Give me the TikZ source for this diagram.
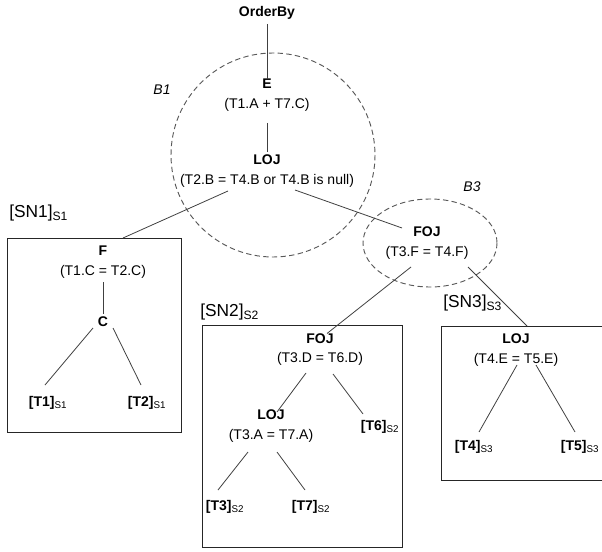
\documentclass[tikz,border=0pt]{standalone}
\usepackage{fontspec}
\setmainfont{Liberation Sans}
\usetikzlibrary{calc}

\newcommand{\leaf}[2]{\textbf{[#1]}\textsubscript{#2}}

\begin{document}
\begin{tikzpicture}[x=0.75pt,y=-0.75pt,
                    font=\fontsize{10.5}{14.5}\selectfont,
                    op/.style={align=center,inner sep=1pt},
                    part/.style={anchor=west,inner sep=0pt,font=\fontsize{13}{15}\selectfont},
                    blk/.style={inner sep=0pt,font=\fontsize{10.5}{12}\selectfont\itshape},
                    wire/.style={draw=black!75,line width=0.6pt},
                    ring/.style={draw=black!65,line width=0.7pt,dash pattern=on 4pt off 2.5pt},
                    sbox/.style={draw=black!85,line width=0.7pt}]
                    \clip (0,0) rectangle (602,552);
                    \draw[ring] (273,155) circle [radius=102];
                    \draw[ring] (430,243) ellipse [x radius=67,y radius=44];
                    \draw[sbox] (7,238) rectangle (181,432);
                    \draw[sbox] (202,325) rectangle (402,547);
                    \draw[sbox] (441,326) rectangle (612,480);
                    \coordinate (sn1top) at (123,238);
                    \coordinate (sn3top) at (527,326);
                    \node[blk] (b1) at (162,90) {B1};
                    \node[blk] (b3) at (472,187) {B3};
                    \node[part] (sn1) at (9,213) {[SN1]\textsubscript{S1}};
                    \node[part] (sn2) at (200,312) {[SN2]\textsubscript{S2}};
                    \node[part] (sn3) at (443,303) {[SN3]\textsubscript{S3}};
                    \node[op] (orderby) at (267,13) {\textbf{OrderBy}};
                    \node[op] (e) at (267,95) {\textbf{E}\\(T1.A + T7.C)};
                    \node[op] (lojB1) at (267,171) {\textbf{LOJ}\\(T2.B = T4.B or T4.B is null)};
                    \node[op] (fojB3) at (427,243) {\textbf{FOJ}\\(T3.F = T4.F)};
                    \node[op] (f1) at (103,262) {\textbf{F}\\(T1.C = T2.C)};
                    \node[op] (c1) at (103,322) {\textbf{C}};
                    \node[op] (t1) at (48,403) {\leaf{T1}{S1}};
                    \node[op] (t2) at (147,403) {\leaf{T2}{S1}};
                    \node[op] (foj2) at (320,349.5) {\textbf{FOJ}\\(T3.D = T6.D)};
                    \node[op] (loj2) at (271,426) {\textbf{LOJ}\\(T3.A = T7.A)};
                    \node[op] (t6) at (380,427) {\leaf{T6}{S2}};
                    \node[op] (t3) at (225,507) {\leaf{T3}{S2}};
                    \node[op] (t7) at (311,507) {\leaf{T7}{S2}};
                    \node[op] (loj3) at (516,350) {\textbf{LOJ}\\(T4.E = T5.E)};
                    \node[op] (t4) at (474,447) {\leaf{T4}{S3}};
                    \node[op] (t5) at (580,447) {\leaf{T5}{S3}};
                    \draw[wire] ($(orderby)+(0,11)$) -- ($(e)+(0,-16)$);
                    \draw[wire] ($(e)+(0,28)$) -- ($(lojB1)+(0,-19)$);
                    \draw[wire] ($(lojB1)+(-39,20)$) -- (sn1top);
                    \draw[wire] ($(lojB1)+(28,19)$) -- ($(fojB3)+(-25,-15)$);
                    \draw[wire] ($(fojB3)+(-16,24)$) -- ($(foj2)+(7,-16)$);
                    \draw[wire] ($(fojB3)+(41,24)$) -- (sn3top);
                    \draw[wire] ($(f1)+(0,20)$) -- ($(c1)+(0,-8)$);
                    \draw[wire] ($(c1)+(-10,6)$) -- ($(t1)+(-3,-18)$);
                    \draw[wire] ($(c1)+(10,6)$) -- ($(t2)+(-6,-18)$);
                    \draw[wire] ($(foj2)+(-14,23.5)$) -- ($(loj2)+(6,-14)$);
                    \draw[wire] ($(foj2)+(13,24.5)$) -- ($(t6)+(-17,-13)$);
                    \draw[wire] ($(loj2)+(-23,26)$) -- ($(t3)+(-7,-17)$);
                    \draw[wire] ($(loj2)+(6,26)$) -- ($(t7)+(-6,-17)$);
                    \draw[wire] ($(loj3)+(1,15)$) -- ($(t4)+(5,-15)$);
                    \draw[wire] ($(loj3)+(20,15)$) -- ($(t5)+(-5,-15)$);
                \end{tikzpicture}
\end{document}
